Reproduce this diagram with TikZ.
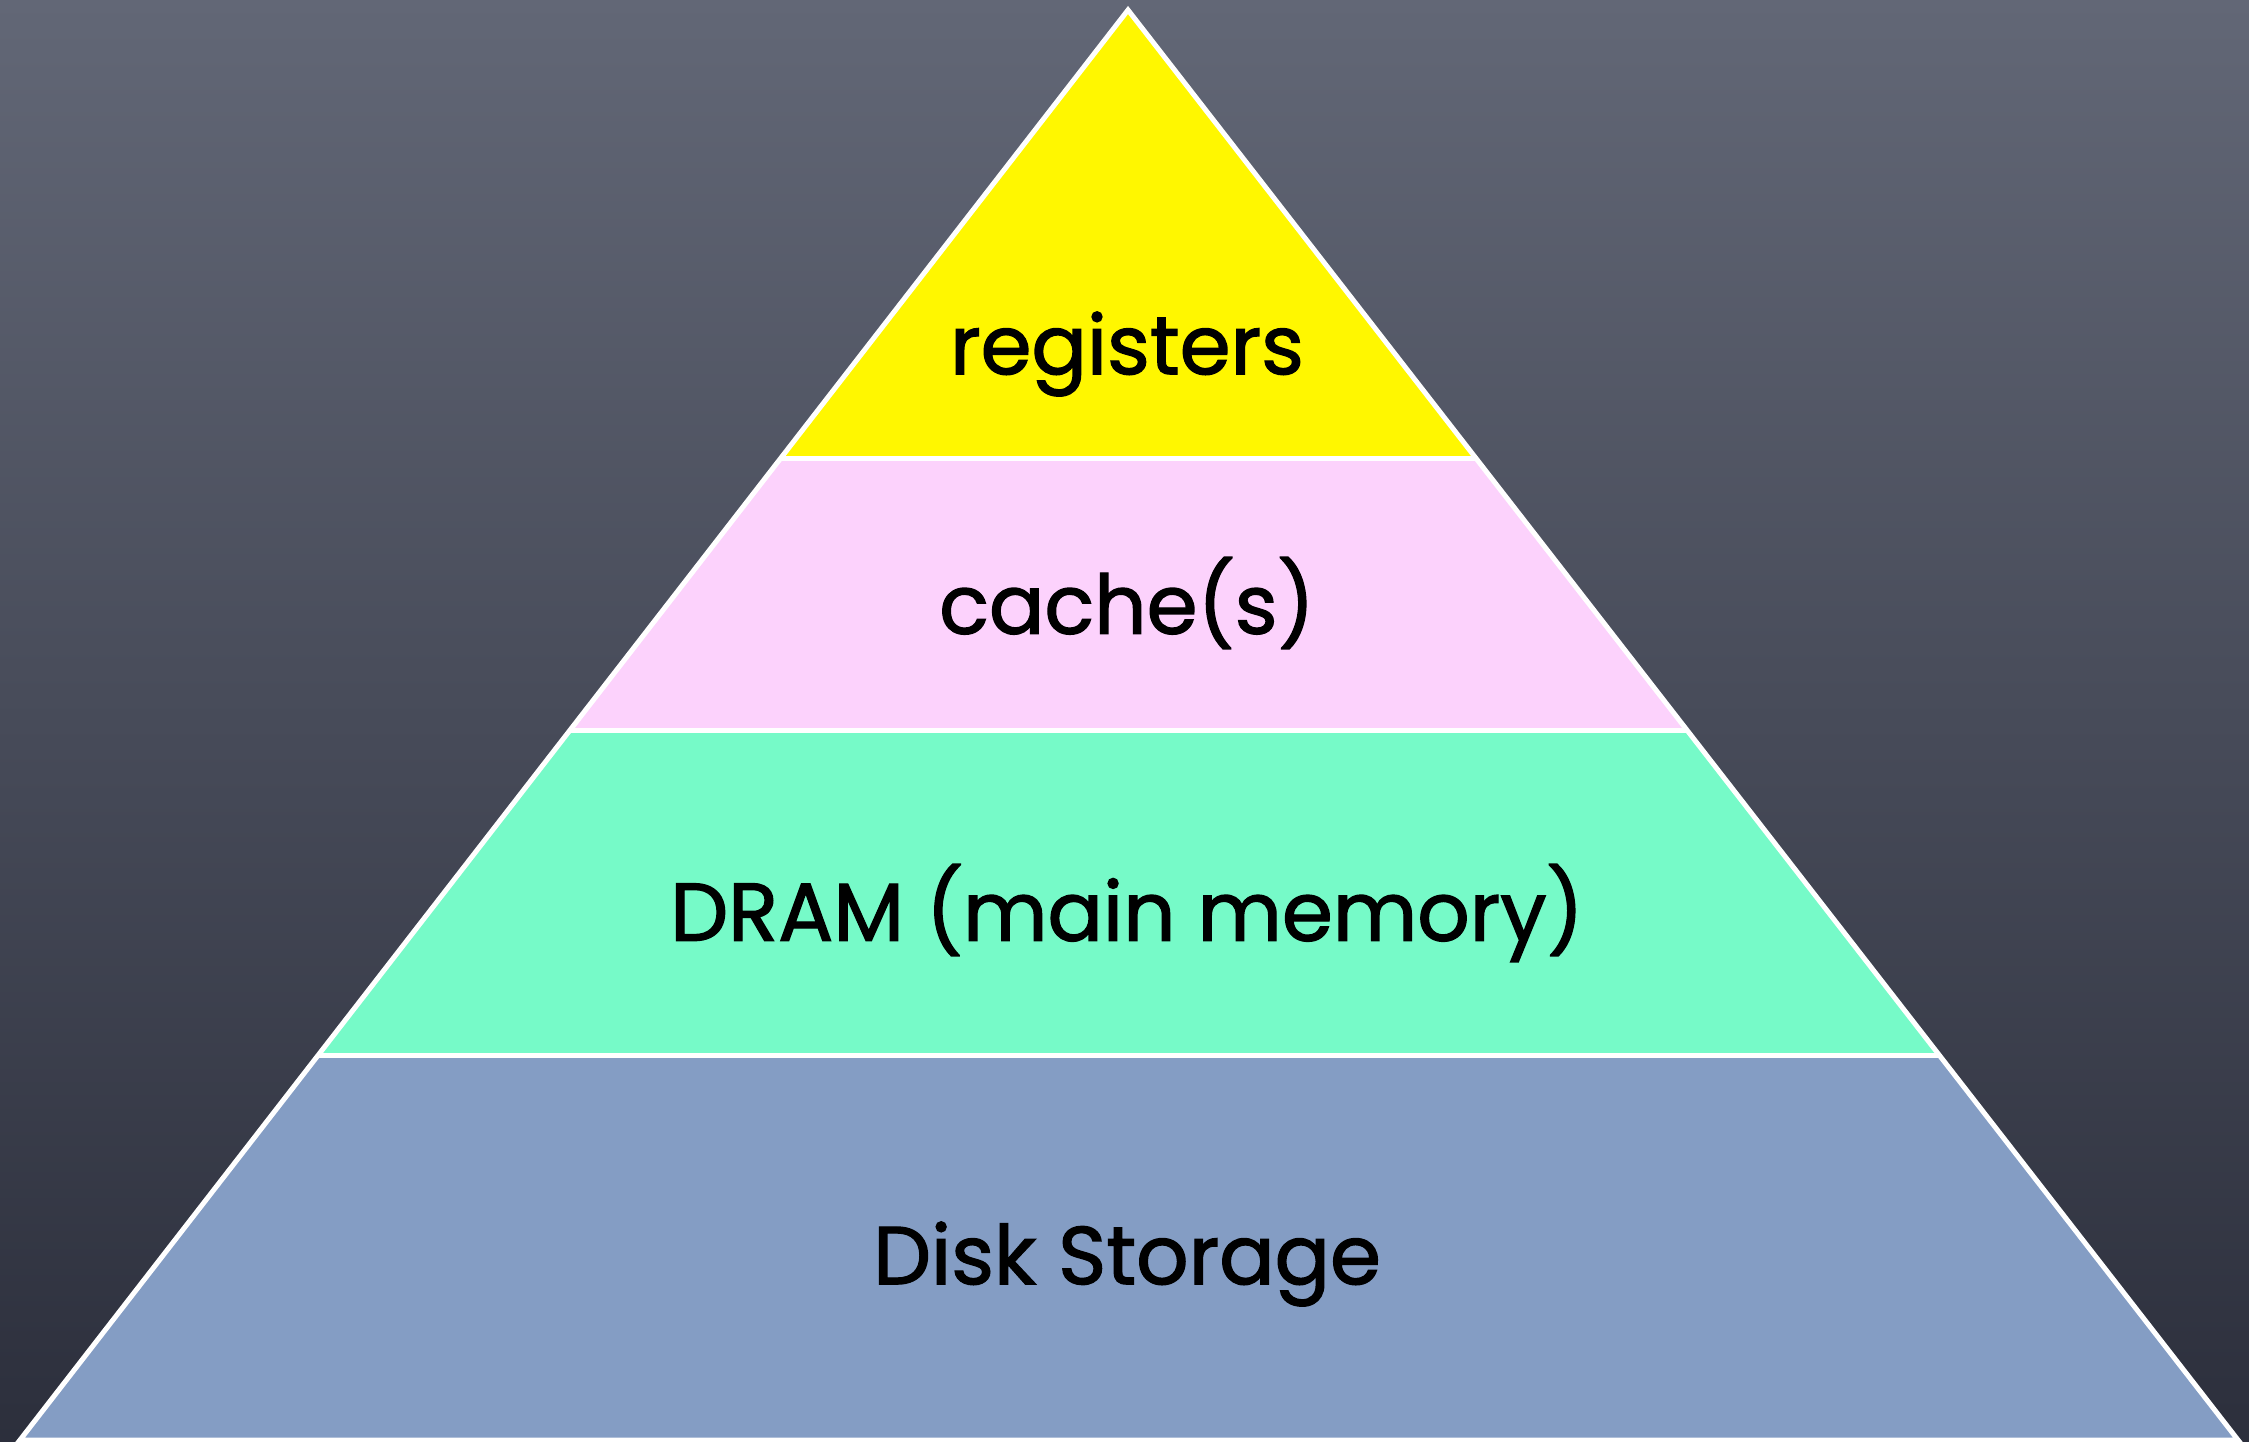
\documentclass[tikz,border=0pt]{standalone}
\usepackage{fontspec}
\setmainfont{Poppins}
\newfontfamily\lblfont{Poppins}[FakeBold=1.6]
\usetikzlibrary{calc}
\definecolor{bgtop}{RGB}{98,103,118}
\definecolor{bgmid}{RGB}{88,93,109}
\definecolor{bgbot}{RGB}{44,47,60}
\definecolor{regcol}{RGB}{255,247,0}
\definecolor{cachecol}{RGB}{252,210,252}
\definecolor{dramcol}{RGB}{118,250,200}
\definecolor{diskcol}{RGB}{132,157,196}
\tikzset{
  band/.style={draw=white, line width=5pt, line join=miter},
  lbl/.style={font=\lblfont\fontsize{82}{96}\selectfont, text=black, inner sep=0pt}
}
\begin{document}
\begin{tikzpicture}[x=1pt,y=-1pt]
\useasboundingbox (0,0) rectangle (2249,1442);
\shade[top color=bgtop, middle color=bgmid, bottom color=bgbot] (0,0) rectangle (2249,1442);
\coordinate (A) at (1128,10);
\coordinate (BL) at (20,1440);
\coordinate (BR) at (2238,1440);
\coordinate (L1) at ($(A)!0.3133!(BL)$);
\coordinate (R1) at ($(A)!0.3133!(BR)$);
\coordinate (L2) at ($(A)!0.5035!(BL)$);
\coordinate (R2) at ($(A)!0.5035!(BR)$);
\coordinate (L3) at ($(A)!0.7308!(BL)$);
\coordinate (R3) at ($(A)!0.7308!(BR)$);
\fill[regcol] (A) -- (L1) -- (R1) -- cycle;
\fill[cachecol] (L1) -- (L2) -- (R2) -- (R1) -- cycle;
\fill[dramcol] (L2) -- (L3) -- (R3) -- (R2) -- cycle;
\fill[diskcol] (L3) -- (BL) -- (BR) -- (R3) -- cycle;
\draw[band] (A) -- (BL) -- (BR) -- cycle;
\draw[band] (L1) -- (R1);
\draw[band] (L2) -- (R2);
\draw[band] (L3) -- (R3);
\node[lbl] (reg) at (1127,354) {registers};
\node[lbl] (cache) at (1127,603) {cache(s)};
\node[lbl] (dram) at (1127,913) {DRAM (main memory)};
\node[lbl] (disk) at (1127,1264) {Disk Storage};
\end{tikzpicture}
\end{document}
